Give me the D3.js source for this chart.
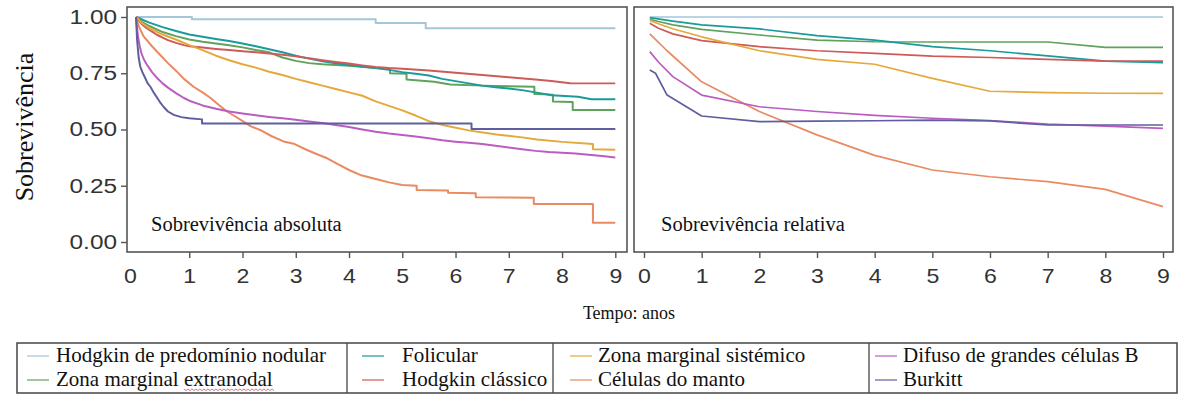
<!DOCTYPE html>
<html><head><meta charset="utf-8">
<script src="https://cdn.jsdelivr.net/npm/d3@7"></script>
<style>
body{margin:0;background:#fff}
svg{display:block}
</style></head>
<body>
<svg id="c" width="1178" height="394"></svg>
<script>
// ---------- data ----------
const categories = ["Hodgkin de predomínio nodular","Folicular","Zona marginal sistémico","Difuso de grandes células B",
                    "Zona marginal extranodal","Hodgkin clássico","Células do manto","Burkitt"];
const colors = ["#a3c6da","#1b9a9c","#e5a83a","#bb5cc2","#5fa25c","#cf5a58","#e98a62","#5f5fa0"];
const yTicks = [0,0.25,0.5,0.75,1];
const xTicks = [0,1,2,3,4,5,6,7,8,9];

// absolute survival (Kaplan-Meier; repeated times mark visible drops)
const absNodular = [[0,1],[1.05,1],[1.05,0.99],[4.5,0.99],[4.5,0.973],[5.44,0.973],[5.44,0.95],[9,0.95]];
const absFolicular = [[0,1],[0.1,0.99],[0.25,0.975],[0.5,0.955],[0.75,0.938],[1,0.922],[1.25,0.912],[1.5,0.902],[1.75,0.893],[2,0.882],[2.25,0.87],[2.5,0.857],[2.75,0.843],[3,0.828],[3.25,0.815],[3.5,0.803],[3.75,0.794],[4,0.787],[4.25,0.78],[4.5,0.773],[4.75,0.765],[5,0.755],[5.25,0.748],[5.5,0.74],[5.75,0.725],[6,0.715],[6.25,0.705],[6.5,0.695],[6.75,0.688],[7,0.682],[7.25,0.675],[7.5,0.665],[7.8,0.652],[8.3,0.646],[8.55,0.634],[9,0.634]];
const absSistemico = [[0,1],[0.05,0.99],[0.1,0.975],[0.25,0.95],[0.5,0.922],[0.75,0.9],[1,0.875],[1.25,0.853],[1.5,0.828],[1.75,0.808],[2,0.79],[2.25,0.775],[2.5,0.757],[2.75,0.742],[3,0.725],[3.25,0.71],[3.5,0.695],[3.75,0.68],[4,0.665],[4.25,0.65],[4.5,0.625],[4.75,0.605],[5,0.585],[5.25,0.562],[5.5,0.537],[5.8,0.518],[6.27,0.495],[6.77,0.478],[7.25,0.465],[7.53,0.456],[8,0.445],[8.58,0.436],[8.58,0.412],[9,0.41]];
const absDifuso = [[0,1],[0.02,0.95],[0.04,0.91],[0.07,0.87],[0.1,0.84],[0.15,0.81],[0.2,0.79],[0.3,0.755],[0.4,0.728],[0.5,0.705],[0.6,0.686],[0.75,0.662],[0.9,0.64],[1,0.628],[1.25,0.607],[1.5,0.592],[1.75,0.58],[2,0.571],[2.25,0.563],[2.5,0.556],[2.75,0.55],[3,0.543],[3.25,0.536],[3.5,0.529],[3.75,0.52],[4,0.511],[4.25,0.5],[4.5,0.49],[4.75,0.482],[5,0.476],[5.25,0.469],[5.5,0.461],[5.75,0.452],[6,0.446],[6.25,0.441],[6.5,0.436],[6.75,0.428],[7,0.42],[7.25,0.412],[7.5,0.405],[7.75,0.4],[8,0.397],[8.25,0.393],[8.5,0.388],[8.75,0.382],[9,0.376]];
const absExtranodal = [[0,1],[0.1,0.98],[0.25,0.96],[0.5,0.933],[0.75,0.915],[1,0.9],[1.25,0.89],[1.5,0.882],[1.75,0.874],[2,0.865],[2.25,0.853],[2.5,0.843],[2.75,0.82],[3,0.805],[3.25,0.795],[3.5,0.79],[4,0.783],[4.5,0.773],[4.77,0.77],[4.77,0.75],[5.08,0.748],[5.08,0.722],[5.6,0.712],[5.9,0.7],[6.5,0.695],[7.48,0.69],[7.48,0.658],[7.83,0.655],[7.83,0.624],[8.2,0.622],[8.2,0.587],[9,0.587]];
const absClassico = [[0,1],[0.05,0.985],[0.1,0.97],[0.2,0.95],[0.3,0.935],[0.4,0.92],[0.5,0.908],[0.6,0.897],[0.75,0.885],[0.9,0.875],[1,0.87],[1.25,0.864],[1.5,0.858],[1.75,0.853],[2,0.848],[2.25,0.843],[2.5,0.838],[2.75,0.832],[3,0.825],[3.25,0.817],[3.5,0.808],[3.75,0.8],[4,0.793],[4.25,0.785],[4.5,0.778],[4.75,0.773],[5,0.77],[5.5,0.762],[6,0.752],[6.5,0.742],[7,0.732],[7.5,0.722],[7.8,0.716],[8.15,0.706],[9,0.705]];
const absManto = [[0,1],[0.05,0.96],[0.14,0.915],[0.3,0.87],[0.46,0.83],[0.6,0.795],[0.77,0.757],[0.9,0.725],[1.08,0.69],[1.25,0.665],[1.4,0.64],[1.55,0.61],[1.71,0.58],[1.85,0.56],[2.02,0.535],[2.15,0.515],[2.33,0.498],[2.55,0.47],[2.77,0.447],[2.96,0.437],[3.2,0.41],[3.4,0.39],[3.59,0.372],[3.8,0.345],[4,0.32],[4.21,0.298],[4.52,0.279],[4.75,0.265],[5,0.253],[5.27,0.25],[5.27,0.231],[5.86,0.229],[5.86,0.219],[6.38,0.217],[6.38,0.199],[7.47,0.197],[7.47,0.169],[8.58,0.169],[8.58,0.086],[9,0.086]];
const absBurkitt = [[0,1],[0.02,0.9],[0.05,0.82],[0.08,0.78],[0.12,0.755],[0.17,0.73],[0.22,0.705],[0.27,0.69],[0.33,0.665],[0.4,0.64],[0.46,0.618],[0.52,0.6],[0.6,0.58],[0.71,0.565],[0.85,0.555],[1,0.55],[1.24,0.545],[1.24,0.527],[6.3,0.527],[6.3,0.502],[9,0.502]];

// relative survival (polylines)
const relNodular = [[0.1,1],[9,1]];
const relFolicular = [[0.1,0.997],[0.5,0.982],[1,0.965],[2,0.947],[3,0.917],[4,0.897],[5,0.868],[6,0.85],[7,0.827],[8,0.804],[9,0.797]];
const relSistemico = [[0.1,0.985],[0.25,0.97],[0.5,0.948],[1,0.912],[2,0.85],[3,0.812],[4,0.79],[5,0.727],[6,0.67],[7,0.664],[8,0.661],[9,0.661]];
const relDifuso = [[0.1,0.846],[0.25,0.8],[0.5,0.735],[1,0.653],[2,0.601],[3,0.58],[4,0.563],[5,0.55],[6,0.54],[7,0.524],[8,0.515],[9,0.505]];
const relExtranodal = [[0.1,0.99],[0.25,0.98],[0.5,0.965],[1,0.945],[2,0.92],[3,0.897],[4,0.89],[5,0.889],[6,0.889],[7,0.889],[8,0.865],[9,0.865]];
const relClassico = [[0.1,0.972],[0.25,0.95],[0.5,0.925],[1,0.895],[2,0.868],[3,0.85],[4,0.838],[5,0.826],[6,0.82],[7,0.812],[8,0.804],[9,0.804]];
const relManto = [[0.1,0.925],[0.4,0.85],[1,0.712],[2,0.58],[3,0.476],[4,0.385],[5,0.32],[6,0.29],[7,0.268],[8,0.234],[9,0.157]];
const relBurkitt = [[0.1,0.764],[0.2,0.75],[0.4,0.653],[1,0.56],[2,0.535],[3,0.537],[4,0.539],[5,0.542],[6,0.538],[7,0.52],[8,0.52],[9,0.52]];

const absSeries = [absNodular,absFolicular,absSistemico,absDifuso,absExtranodal,absClassico,absManto,absBurkitt];
const relSeries = [relNodular,relFolicular,relSistemico,relDifuso,relExtranodal,relClassico,relManto,relBurkitt];
const drawOrder = [0,4,1,5,2,6,3,7];

// ---------- layout ----------
const SANS = '"Liberation Sans", Arial, Helvetica, sans-serif';
const SERIF = '"Liberation Serif", "Times New Roman", Times, serif';
const svg = d3.select("#c");
const frameTop = 7, frameBottom = 252;
const panels = [
  {x0:127, x1:627, range:[136,615.3], series:absSeries, width:2, label:"Sobrevivência absoluta", lx:151},
  {x0:634, x1:1173, range:[644,1163], series:relSeries, width:1.7, label:"Sobrevivência relativa", lx:661}
];
const y = d3.scaleLinear().domain([0,1]).range([242,17]);

function stretch(sel,k){
  sel.each(function(){
    const w=this.getComputedTextLength();
    this.setAttribute("textLength",w*k);
    this.setAttribute("lengthAdjust","spacingAndGlyphs");
  });
}
function serifText(parent){ return parent.append("text").style("font-family",SERIF).attr("fill","#111"); }

panels.forEach((p,pi)=>{
  const x = d3.scaleLinear().domain([0,9]).range(p.range);
  const g = svg.append("g");
  const line = d3.line().x(d=>x(d[0])).y(d=>y(d[1]));
  drawOrder.forEach(i=>{
    g.append("path").attr("d",line(p.series[i])).attr("fill","none")
      .attr("stroke",colors[i]).attr("stroke-width",p.width).attr("stroke-linejoin","round");
  });
  g.append("rect").attr("x",p.x0).attr("y",frameTop).attr("width",p.x1-p.x0).attr("height",frameBottom-frameTop)
    .attr("fill","none").attr("stroke","#555").attr("stroke-width",1.6);
  const xa = svg.append("g").attr("transform",`translate(0,${frameBottom})`)
    .call(d3.axisBottom(x).tickValues(xTicks).tickFormat(d3.format("d")).tickSize(6).tickPadding(10));
  xa.select(".domain").remove();
  xa.selectAll(".tick line").attr("stroke","#555").attr("stroke-width",1.4);
  xa.selectAll(".tick text").style("font-family",SANS).attr("font-size",21).attr("fill","#333");
  if(pi===0){
    xa.selectAll(".tick line").filter(d=>d===0).remove();
    xa.selectAll(".tick text").filter(d=>d===0).attr("dx",-6);
  }
  stretch(xa.selectAll(".tick text"),1.1);
  serifText(svg).attr("x",p.lx).attr("y",231).attr("font-size",20.5).text(p.label);
});

const ya = svg.append("g").attr("transform","translate(127,0)")
  .call(d3.axisLeft(y).tickValues(yTicks).tickFormat(d3.format(".2f")).tickSize(6).tickPadding(4));
ya.select(".domain").remove();
ya.selectAll(".tick line").attr("stroke","#555").attr("stroke-width",1.4);
ya.selectAll(".tick text").style("font-family",SANS).attr("font-size",19.5).attr("fill","#333");
stretch(ya.selectAll(".tick text"),1.25);

serifText(svg).attr("transform","translate(33,127) rotate(-90)")
  .attr("text-anchor","middle").attr("font-size",26).text("Sobrevivência");
serifText(svg).attr("x",629).attr("y",319)
  .attr("text-anchor","middle").attr("font-size",18).text("Tempo: anos");

// ---------- legend ----------
const lgTop = 343, lgBottom = 393, lgLeft = 17, lgRight = 1177;
const colX = [17,347,553,869];
const lineStart = [27,362,570,875];
const textStart = [56,402,598,903];
const rowY = [362,386];
const lg = svg.append("g");
lg.append("rect").attr("x",lgLeft).attr("y",lgTop).attr("width",lgRight-lgLeft).attr("height",lgBottom-lgTop)
  .attr("fill","none").attr("stroke","#444").attr("stroke-width",1.5);
colX.slice(1).forEach(cx=>lg.append("line").attr("x1",cx).attr("x2",cx).attr("y1",lgTop).attr("y2",lgBottom)
  .attr("stroke","#444").attr("stroke-width",1.3));
categories.forEach((name,i)=>{
  const c=i%4, r=Math.floor(i/4);
  lg.append("line").attr("x1",lineStart[c]).attr("x2",lineStart[c]+22).attr("y1",rowY[r]-6).attr("y2",rowY[r]-6)
    .attr("stroke",colors[i]).attr("stroke-width",1.6).attr("opacity",0.75);
  const t = serifText(lg).attr("x",textStart[c]).attr("y",rowY[r]).attr("font-size",21).text(name);
  if(name.includes("extranodal")){
    const node=t.node(), s=name.indexOf("extranodal");
    const x0=textStart[c]+node.getSubStringLength(0,s), w=node.getSubStringLength(s,10);
    let d=`M${x0},${rowY[r]+3}`;
    for(let k=0,xx=x0;xx<x0+w;k++,xx+=2) d+=`L${xx+2},${rowY[r]+3+(k%2?0:1.6)}`;
    lg.append("path").attr("d",d).attr("fill","none").attr("stroke","#e06070").attr("stroke-width",0.9);
  }
});
</script>
</body></html>
